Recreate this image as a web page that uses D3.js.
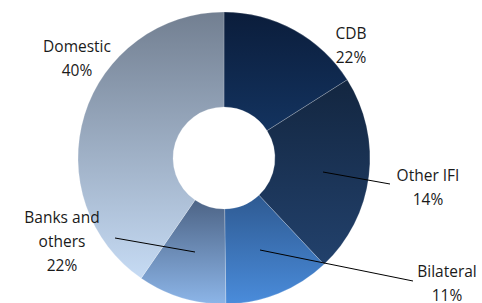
<!DOCTYPE html>
<html>
<head>
<meta charset="utf-8">
<script src="https://cdn.jsdelivr.net/npm/d3@7"></script>
<style>
  body { margin: 0; background: #fff; }
  svg { display: block; font-family: "Open Sans", "Noto Sans", sans-serif; }
</style>
</head>
<body>
<svg id="chart" width="482" height="303"></svg>
<script>
// slice sizes as drawn, and the percentage labels printed on the chart
const categories = ["CDB", "Other IFI", "Bilateral", "Banks and others", "Domestic"];
const sliceValues = [16, 22, 11.8, 9.8, 40.4];
const labelPercents = ["22%", "14%", "11%", "22%", "40%"];

// top / bottom gradient colours per slice
const topColors = ["#0b1d3b", "#132640", "#2e5a92", "#4d6486", "#727f91"];
const bottomColors = ["#13335f", "#22416c", "#4a8cdb", "#8cb5e8", "#c6dbf4"];

const width = 482, height = 303;
const cx = 224, cy = 158;
const outerR = 146, innerR = 51;

const svg = d3.select("#chart");
const defs = svg.append("defs");

categories.forEach((c, i) => {
  const g = defs.append("linearGradient")
    .attr("id", "grad" + i)
    .attr("x1", 0).attr("y1", 0).attr("x2", 0).attr("y2", 1);
  g.append("stop").attr("offset", "0%").attr("stop-color", topColors[i]);
  g.append("stop").attr("offset", "100%").attr("stop-color", bottomColors[i]);
});

const pie = d3.pie().sort(null).value(d => d);
const arc = d3.arc().innerRadius(innerR).outerRadius(outerR);

const arcs = pie(sliceValues);

svg.append("g")
  .attr("transform", "translate(" + cx + "," + cy + ")")
  .selectAll("path")
  .data(arcs)
  .enter().append("path")
  .attr("d", arc)
  .attr("fill", (d, i) => "url(#grad" + i + ")")
  .attr("stroke", "#fff")
  .attr("stroke-width", 0.4)
  .attr("stroke-opacity", 0.5);

// label layout: x centre, baseline of first line, category lines
const labelPos = [
  { x: 351, y: 39, lines: ["CDB"] },
  { x: 428, y: 181, lines: ["Other IFI"] },
  { x: 447, y: 277, lines: ["Bilateral"] },
  { x: 62, y: 223, lines: ["Banks and", "others"] },
  { x: 77, y: 52, lines: ["Domestic"] }
];

// leader lines: start inside slice, end near label
const leaders = [
  null,
  [[323, 172], [390, 184]],
  [[260, 250], [413, 281]],
  [[115, 238], [195, 252]],
  null
];

svg.append("g").selectAll("path")
  .data(leaders.filter(d => d))
  .enter().append("path")
  .attr("d", d => d3.line()(d))
  .attr("stroke", "#000")
  .attr("stroke-width", 1)
  .attr("fill", "none");

const labels = svg.append("g")
  .selectAll("text")
  .data(categories)
  .enter().append("text")
  .attr("text-anchor", "middle")
  .attr("font-size", 15.5)
  .attr("fill", "#1a1a1a");

labels.each(function (d, i) {
  const t = d3.select(this);
  const p = labelPos[i];
  p.lines.concat([labelPercents[i]]).forEach((line, k) => {
    t.append("tspan")
      .attr("x", p.x)
      .attr("y", p.y + k * 24)
      .text(line);
  });
});
</script>
</body>
</html>
